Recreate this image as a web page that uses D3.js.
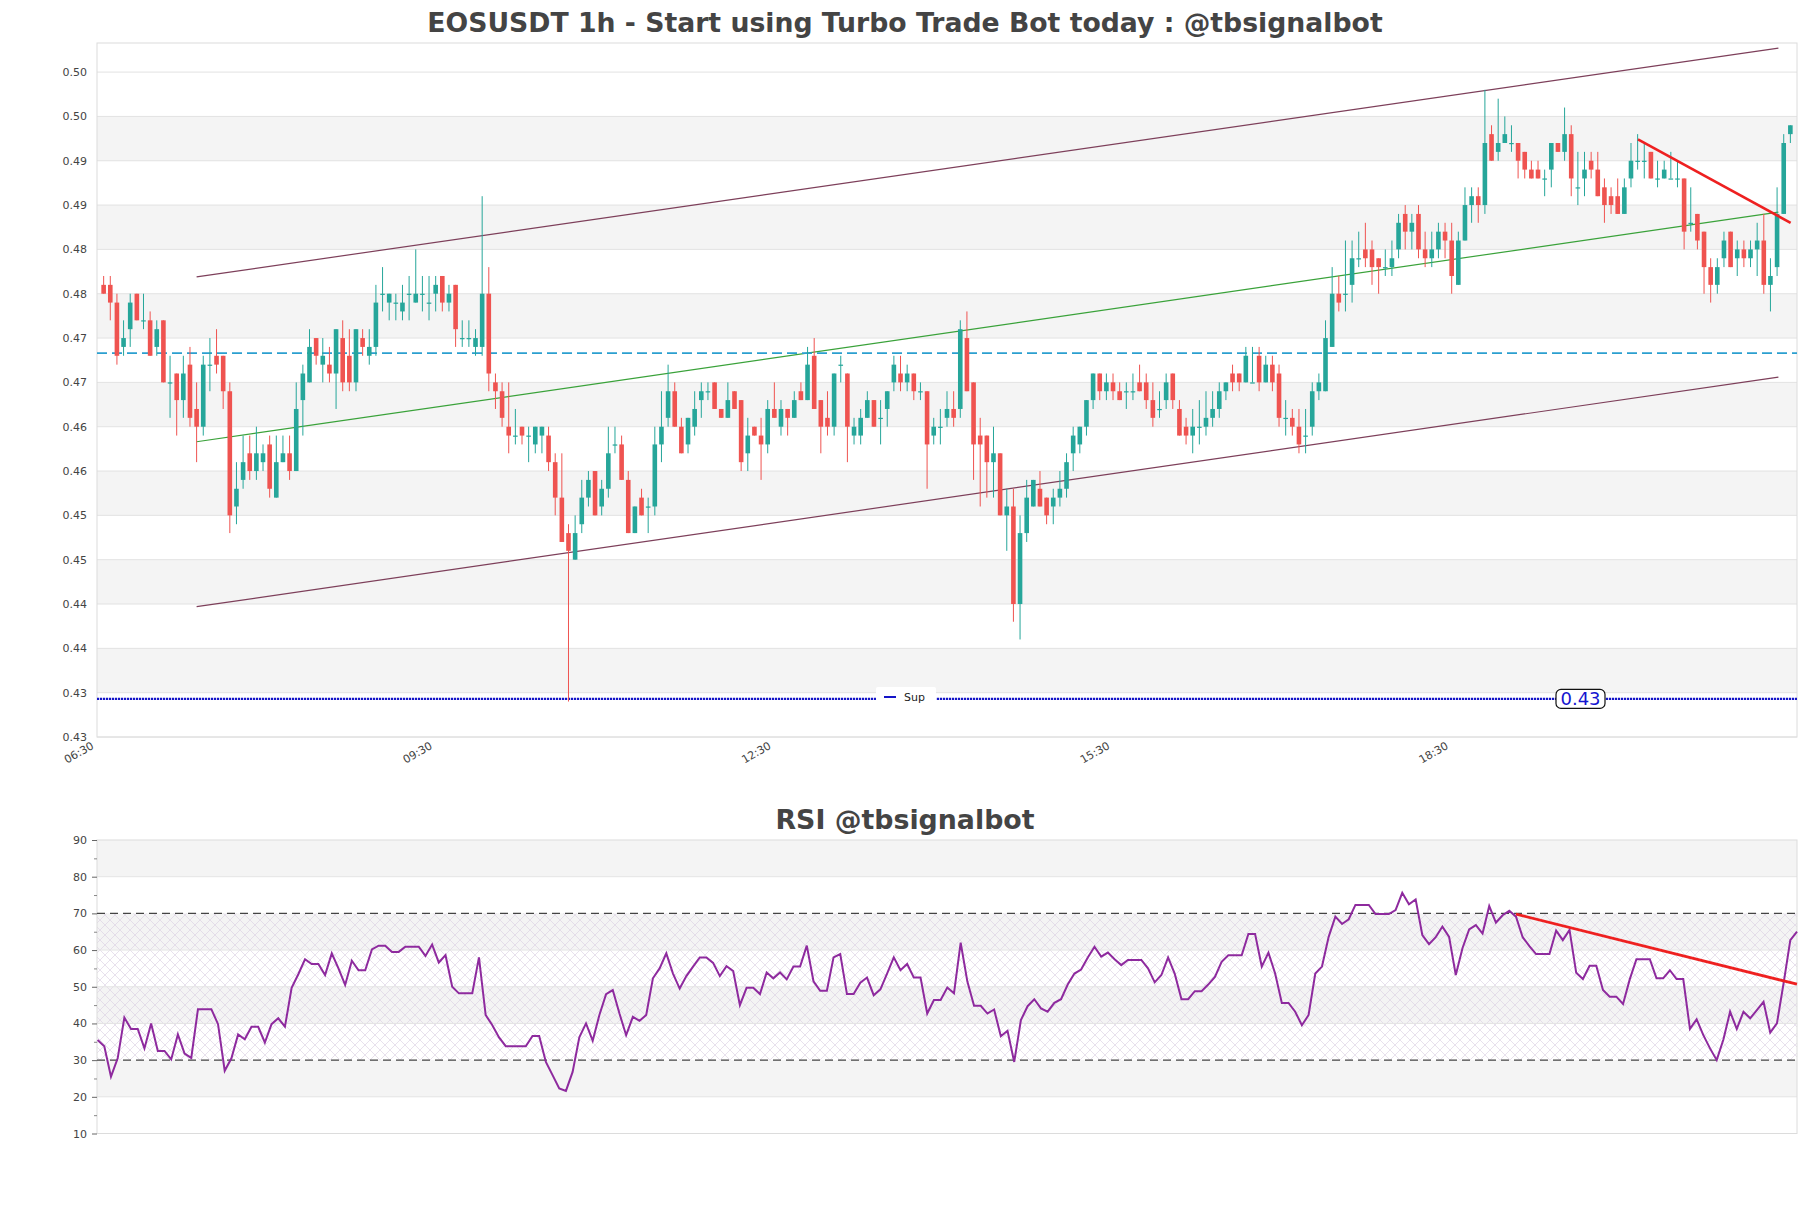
<!DOCTYPE html>
<html><head><meta charset="utf-8">
<script src="https://cdn.jsdelivr.net/npm/d3@7"></script>
<style>body{margin:0;background:#fff} text{font-family:"DejaVu Sans",sans-serif}</style>
</head><body><svg id="c" width="1811" height="1208"></svg>
<script>
// ---------- DATA ----------
const opens=[.476,.476,.474,.469,.471,.475,.472,.472,.469,.472,
.465,.466,.463,.467,.462,.460,.467,.468,.468,.464,
.451,.454,.457,.455,.456,.458,.452,.456,.457,.455,
.463,.465,.470,.467,.467,.466,.470,.468,.465,.470,
.468,.469,.475,.474,.474,.473,.475,.474,.475,.474,
.475,.477,.474,.476,.470,.470,.469,.469,.475,.465,
.464,.460,.459,.460,.459,.458,.459,.459,.456,.452,
.448,.445,.449,.452,.455,.451,.453,.458,.458,.454,
.448,.452,.451,.451,.458,.461,.464,.460,.458,.460,
.463,.464,.465,.462,.461,.464,.463,.457,.460,.459,
.458,.462,.460,.462,.461,.464,.463,.468,.463,.461,
.460,.467,.466,.459,.459,.461,.463,.461,.462,.465,
.466,.465,.466,.464,.464,.459,.460,.461,.462,.462,
.470,.465,.459,.459,.456,.457,.450,.451,.440,.448,
.451,.453,.452,.451,.452,.453,.457,.458,.460,.463,
.466,.464,.465,.464,.464,.464,.465,.465,.463,.462,
.463,.466,.462,.460,.459,.460,.460,.461,.462,.464,
.466,.466,.465,.465,.468,.465,.467,.466,.461,.461,
.460,.459,.460,.464,.464,.469,.475,.475,.476,.479,
.480,.480,.479,.478,.478,.480,.484,.482,.484,.480,
.479,.480,.482,.481,.476,.481,.485,.486,.485,.493,
.491,.492,.492,.492,.491,.489,.489,.488,.489,.492,
.491,.493,.487,.488,.490,.489,.487,.486,.486,.484,
.488,.490,.490,.491,.488,.488,.488,.488,.488,.483,
.484,.482,.478,.476,.479,.482,.479,.480,.479,.480,
.481,.476,.478,.484,.493];
const highs=[.477,.477,.475,.472,.475,.475,.475,.473,.472,.472,
.468,.466,.468,.469,.465,.468,.470,.471,.468,.465,
.456,.459,.459,.460,.458,.459,.459,.459,.459,.465,
.467,.471,.470,.470,.469,.471,.472,.471,.471,.471,
.471,.476,.478,.475,.475,.476,.477,.480,.477,.477,
.477,.477,.476,.476,.472,.472,.471,.486,.478,.466,
.465,.465,.462,.460,.460,.460,.460,.460,.457,.457,
.449,.450,.454,.455,.455,.454,.460,.460,.459,.455,
.451,.453,.452,.460,.464,.467,.465,.461,.461,.464,
.465,.465,.465,.462,.465,.464,.463,.461,.460,.461,
.463,.465,.463,.462,.464,.465,.469,.470,.463,.464,
.466,.468,.466,.461,.462,.464,.463,.463,.464,.468,
.468,.467,.466,.465,.464,.461,.462,.464,.464,.472,
.473,.465,.461,.459,.460,.457,.453,.453,.450,.454,
.454,.455,.452,.453,.455,.457,.460,.460,.463,.466,
.466,.466,.466,.465,.465,.466,.467,.466,.465,.464,
.466,.466,.463,.461,.462,.463,.464,.464,.465,.465,
.467,.466,.469,.469,.469,.468,.468,.467,.463,.462,
.462,.462,.465,.466,.472,.478,.477,.481,.481,.482,
.483,.481,.479,.480,.481,.484,.485,.484,.485,.482,
.482,.483,.483,.483,.482,.487,.487,.487,.498,.494,
.497,.495,.494,.492,.491,.490,.490,.489,.492,.492,
.496,.494,.491,.491,.491,.491,.488,.487,.488,.488,
.492,.493,.492,.491,.490,.490,.491,.490,.488,.487,
.484,.482,.479,.479,.482,.482,.481,.481,.481,.483,
.484,.479,.487,.493,.494];
const lows=[.475,.472,.467,.468,.469,.472,.471,.468,.468,.465,
.461,.459,.461,.460,.456,.459,.464,.466,.462,.448,
.449,.453,.454,.454,.455,.452,.452,.456,.454,.455,
.459,.465,.467,.465,.465,.462,.464,.464,.464,.468,
.467,.468,.473,.472,.472,.472,.472,.474,.473,.472,
.473,.473,.473,.469,.469,.469,.468,.468,.464,.462,
.460,.457,.458,.458,.456,.457,.457,.455,.450,.447,
.429,.445,.448,.451,.450,.450,.452,.457,.454,.448,
.448,.450,.448,.450,.456,.460,.460,.457,.457,.459,
.461,.463,.462,.461,.461,.462,.455,.455,.459,.454,
.457,.461,.459,.459,.461,.463,.463,.462,.457,.459,
.459,.465,.456,.458,.458,.461,.460,.458,.460,.464,
.464,.464,.463,.463,.453,.458,.458,.460,.460,.461,
.464,.454,.451,.452,.452,.450,.446,.438,.436,.447,
.451,.451,.449,.449,.451,.452,.455,.457,.459,.462,
.463,.463,.463,.463,.462,.463,.464,.462,.460,.461,
.462,.462,.459,.458,.457,.458,.459,.460,.461,.463,
.464,.464,.465,.465,.464,.465,.464,.460,.459,.459,
.457,.457,.459,.463,.464,.469,.473,.473,.474,.478,
.478,.476,.475,.477,.477,.479,.480,.480,.479,.478,
.478,.479,.479,.475,.476,.481,.483,.483,.484,.490,
.490,.492,.491,.488,.488,.488,.488,.486,.487,.491,
.490,.486,.485,.486,.488,.486,.483,.484,.484,.484,
.487,.489,.488,.488,.487,.488,.488,.487,.480,.482,
.480,.475,.474,.475,.478,.478,.477,.478,.478,.477,
.475,.473,.477,.484,.492];
const closes=[.475,.474,.468,.470,.474,.472,.472,.468,.471,.465,
.465,.463,.466,.461,.460,.467,.467,.467,.464,.450,
.453,.456,.455,.457,.457,.453,.456,.457,.455,.462,
.466,.469,.468,.468,.466,.471,.465,.465,.471,.469,
.469,.474,.475,.475,.474,.474,.475,.475,.475,.474,
.476,.474,.475,.471,.470,.470,.470,.475,.466,.464,
.461,.459,.459,.459,.459,.460,.460,.456,.452,.447,
.446,.448,.452,.454,.450,.453,.457,.458,.454,.448,
.451,.450,.451,.458,.460,.464,.460,.457,.461,.462,
.464,.464,.462,.461,.463,.462,.456,.459,.459,.458,
.462,.461,.462,.461,.463,.463,.467,.462,.460,.460,
.466,.467,.460,.460,.461,.463,.460,.461,.464,.467,
.465,.466,.464,.464,.458,.460,.460,.462,.461,.471,
.464,.458,.458,.456,.457,.450,.451,.440,.448,.452,
.454,.451,.450,.452,.453,.456,.459,.460,.463,.466,
.464,.465,.464,.463,.464,.464,.464,.463,.461,.462,
.465,.463,.459,.459,.460,.460,.461,.462,.464,.465,
.465,.465,.468,.465,.465,.467,.465,.461,.461,.460,
.458,.459,.464,.465,.470,.475,.474,.475,.479,.479,
.479,.478,.478,.478,.479,.483,.482,.483,.480,.479,
.480,.482,.481,.477,.481,.485,.486,.485,.492,.490,
.492,.493,.492,.490,.489,.488,.488,.488,.492,.491,
.493,.488,.487,.489,.489,.486,.485,.485,.484,.487,
.490,.490,.490,.488,.488,.489,.488,.488,.482,.483,
.481,.478,.476,.478,.481,.478,.480,.479,.480,.481,
.476,.477,.484,.492,.494];
const rsi=[35.5,33.8,25.5,30.5,41.6,38.5,38.5,33.2,40,32.5,
32.5,30.2,37,31.8,30.6,43.9,43.9,43.9,39.8,27.1,
30.5,37,35.7,39.1,39.1,34.8,39.8,41.4,39.1,49.7,
53.4,57.5,56.2,56.2,53.2,59.1,55,50.5,57.1,54.5,
54.5,60.2,61.2,61.2,59.5,59.5,60.9,60.9,60.9,58.4,
61.5,56.6,58.6,50,48.2,48.2,48.2,58,42.3,39.5,
36.2,33.8,33.8,33.8,33.8,36.6,36.6,29.5,25.9,22.3,
21.6,26.8,36.2,40,35.3,42.3,
48,49.1,42.7,36.8,41.8,40.7,42.3,52.3,55,59.1,
53.6,49.5,52.9,55.5,58,58,56.5,52.9,55.6,54.3,
45,49.7,49.7,48,53.9,52.3,53.9,52,55.5,55.5,
61.2,51.5,48.9,48.9,58,58.9,48,48,51.1,52.5,
47.7,49.3,53.6,58,54.5,56.2,52.5,52.5,42.7,46.4,
46.4,49.8,48.2,62,51.4,44.8,44.8,42.7,43.8,36.5,
38,29.5,40.9,44.7,46.6,44.1,43.2,45.6,46.6,50.6,
53.6,54.7,58,60.9,58.2,59.3,57.5,55.9,57.3,57.3,
57.3,55,51.2,53.2,58,53.5,46.6,46.6,48.8,48.8,
50.6,52.7,56.8,58.6,58.6,58.6,64.4,64.4,55.5,59.3,
53.6,45.6,45.6,43.2,
39.5,42.3,53.6,55.5,63.6,69.1,67.1,68.4,72.3,72.3,
72.3,69.8,69.8,69.8,70.9,75.6,72.5,73.8,64.1,61.6,
63.5,66.4,63.6,53.2,60.5,65.6,66.8,64.5,72,67.5,
69.5,70.7,69.1,63.5,61.1,58.9,58.9,58.9,65.3,62.7,
65.5,53.8,52.1,55.7,55.7,49.1,47.3,47.3,45.3,52,
57.5,57.5,57.5,52.3,52.3,54.5,52.1,52.1,38.5,41.1,
36.8,33.2,30,35.6,43.2,38.5,43.2,41.4,43.6,45.9,
37.5,40,51,62.7,65];
const yTicks=[0.425,0.430,0.435,0.440,0.445,0.450,0.455,0.460,0.465,0.470,0.475,0.480,0.485,0.490,0.495,0.500];
const yTickLabels=["0.43","0.43","0.44","0.44","0.45","0.45","0.46","0.46","0.47","0.47","0.48","0.48","0.49","0.49","0.50","0.50"];
const xTickIdx=[-1,50,101,152,203];
const xTickLabels=["06:30","09:30","12:30","15:30","18:30"];
const channelUpper=[[14,0.4769],[252.2,0.5027]];
const channelLower=[[14,0.4397],[252.2,0.4656]];
const channelMid=[[14,0.4583],[252.2,0.4842]];
const resistLine=[[231.05,0.4924],[254.04,0.4830]];
const cyanLevel=0.4683;
const supportLevel=0.4293;
const supportLabel="0.43";
const rsiTicks=[10,20,30,40,50,60,70,80,90];
const rsiMinorTicks=[15,25,35,45,55,65,75,85];
const rsiTrend=[[212,69.8],[254,50.7]];
const titleMain="EOSUSDT 1h - Start using Turbo Trade Bot today : @tbsignalbot";
const titleRsi="RSI @tbsignalbot";

// ---------- LAYOUT ----------
const svg=d3.select("#c");
const L=97,R=1797,T=43,B=737;
const RT=840,RB=1133.5;
const N=opens.length;
const x=d3.scaleLinear().domain([-1,N]).range([L,R]);
const y=d3.scaleLinear().domain([0.425,0.50328]).range([B,T]);
const xr=d3.scaleLinear().domain([0,rsi.length-1]).range([97.6,R]);
const yr=d3.scaleLinear().domain([10,90]).range([RB,RT]);

svg.append("rect").attr("width",1811).attr("height",1208).attr("fill","#fff");

// titles
svg.append("text").attr("x",905).attr("y",32).attr("text-anchor","middle")
 .attr("font-size",26.7).attr("font-weight","bold").attr("fill","#444").text(titleMain);
svg.append("text").attr("x",905).attr("y",829).attr("text-anchor","middle")
 .attr("font-size",26.8).attr("font-weight","bold").attr("fill","#444").text(titleRsi);

// main bands
const gm=svg.append("g");
for(let k=1;k<yTicks.length-1;k+=2){
  gm.append("rect").attr("x",L).attr("width",R-L)
   .attr("y",y(yTicks[k+1])).attr("height",y(yTicks[k])-y(yTicks[k+1])).attr("fill","#f4f4f4");
}
gm.selectAll("line.grid").data(yTicks).join("line").attr("class","grid")
 .attr("x1",L).attr("x2",R).attr("y1",d=>y(d)).attr("y2",d=>y(d)).attr("stroke","#e2e2e2").attr("stroke-width",1);
gm.append("rect").attr("x",L).attr("y",T).attr("width",R-L).attr("height",B-T)
 .attr("fill","none").attr("stroke","#dcdcdc");

// y axis
const ya=svg.append("g").attr("transform",`translate(${L},0)`)
 .call(d3.axisLeft(y).tickValues(yTicks).tickFormat((d,i)=>yTickLabels[i]).tickSize(0).tickPadding(10));
ya.select(".domain").remove();
ya.selectAll("text").attr("font-size",11).attr("fill","#444").style("font-family","DejaVu Sans");

// x axis
const xa=svg.append("g").attr("transform",`translate(0,${B})`)
 .call(d3.axisBottom(x).tickValues(xTickIdx).tickFormat((d,i)=>xTickLabels[i]).tickSize(0).tickPadding(0));
xa.select(".domain").remove();
xa.selectAll("text").attr("font-size",11).attr("fill","#444").style("font-family","DejaVu Sans")
 .attr("text-anchor","end").attr("dy",0).attr("y",0)
 .attr("transform","translate(-3,11) rotate(-30)");

// lines
const line=d3.line().x(d=>x(d[0])).y(d=>y(d[1]));
const gl=svg.append("g");
gl.append("path").attr("d",line(channelUpper)).attr("stroke","#7d3f5a").attr("fill","none").attr("stroke-width",1.2);
gl.append("path").attr("d",line(channelLower)).attr("stroke","#7d3f5a").attr("fill","none").attr("stroke-width",1.2);
gl.append("path").attr("d",line(channelMid)).attr("stroke","#3aa23a").attr("fill","none").attr("stroke-width",1.2);
gl.append("line").attr("x1",L).attr("x2",R).attr("y1",y(cyanLevel)).attr("y2",y(cyanLevel))
 .attr("stroke","#2b9fcf").attr("stroke-width",1.6).attr("stroke-dasharray","10,5");

// candles
const idx=d3.range(N);
const gc=svg.append("g");
const col=i=>closes[i]>=opens[i]?"#26a69a":"#ef5350";
gc.selectAll("line.w").data(idx).join("line").attr("class","w")
 .attr("x1",i=>x(i)).attr("x2",i=>x(i)).attr("y1",i=>y(highs[i])).attr("y2",i=>y(lows[i]))
 .attr("stroke",col).attr("stroke-width",1);
const bw=4.6;
gc.selectAll("rect.b").data(idx).join("rect").attr("class","b")
 .attr("x",i=>x(i)-bw/2).attr("width",bw)
 .attr("y",i=>y(Math.max(opens[i],closes[i])))
 .attr("height",i=>Math.max(1.2,Math.abs(y(opens[i])-y(closes[i]))))
 .attr("fill",col);

// support line
gl.append("line").attr("x1",L).attr("x2",R).attr("y1",y(supportLevel)).attr("y2",y(supportLevel))
 .attr("stroke","#1515c8").attr("stroke-width",2.4).attr("stroke-dasharray","2.2,0.8");
// resistance
svg.append("path").attr("d",line(resistLine)).attr("stroke","#ee2020").attr("stroke-width",2.6).attr("fill","none");

// legend Sup
const lg=svg.append("g");
lg.append("rect").attr("x",876).attr("y",687).attr("width",60).attr("height",20).attr("fill","#fff").attr("rx",2);
lg.append("line").attr("x1",884).attr("x2",896).attr("y1",697).attr("y2",697).attr("stroke","#1515c8").attr("stroke-width",2);
lg.append("text").attr("x",904).attr("y",701).attr("font-size",11).attr("fill","#222").text("Sup");
// support value label
const sl=svg.append("g");
sl.append("rect").attr("x",1556).attr("y",y(supportLevel)-9.5).attr("width",49).attr("height",19).attr("rx",5)
 .attr("fill","#fff").attr("stroke","#111").attr("stroke-width",1.2);
sl.append("text").attr("x",1580.5).attr("y",y(supportLevel)+6.5).attr("text-anchor","middle")
 .attr("font-size",18).attr("fill","#1515d0").text(supportLabel);

// ---------- RSI ----------
const defs=svg.append("defs");
const pat=defs.append("pattern").attr("id","hatch").attr("patternUnits","userSpaceOnUse").attr("width",10).attr("height",10);
pat.append("path").attr("d","M0,0L10,10M10,0L0,10").attr("stroke","#d8cde0").attr("stroke-width",0.6);
const gr=svg.append("g");
[[80,90],[60,70],[40,50],[20,30]].forEach(b=>{
  gr.append("rect").attr("x",L).attr("width",R-L).attr("y",yr(b[1])).attr("height",yr(b[0])-yr(b[1])).attr("fill","#f4f4f4");
});
gr.append("rect").attr("x",L).attr("width",R-L).attr("y",yr(70)).attr("height",yr(30)-yr(70)).attr("fill","url(#hatch)");
gr.selectAll("line.g").data([20,40,50,60,80]).join("line")
 .attr("x1",L).attr("x2",R).attr("y1",d=>yr(d)).attr("y2",d=>yr(d)).attr("stroke","#e4e4e4");
gr.append("rect").attr("x",L).attr("y",RT).attr("width",R-L).attr("height",RB-RT).attr("fill","none").attr("stroke","#dcdcdc");
[30,70].forEach(v=>gr.append("line").attr("x1",L).attr("x2",R).attr("y1",yr(v)).attr("y2",yr(v))
 .attr("stroke","#444").attr("stroke-width",1.2).attr("stroke-dasharray","8,5"));
const ra=svg.append("g").attr("transform",`translate(${L},0)`)
 .call(d3.axisLeft(yr).tickValues(rsiTicks).tickFormat(d3.format("d")).tickSize(5).tickPadding(5));
ra.select(".domain").remove();
ra.selectAll("line").attr("stroke","#666");
ra.selectAll("text").attr("font-size",11).attr("fill","#444").style("font-family","DejaVu Sans");
const ram=svg.append("g").attr("transform",`translate(${L},0)`)
 .call(d3.axisLeft(yr).tickValues(rsiMinorTicks).tickFormat("").tickSize(3));
ram.select(".domain").remove(); ram.selectAll("line").attr("stroke","#888");

const rl=d3.line().x((d,i)=>xr(i)).y(d=>yr(d));
svg.append("path").attr("d",rl(rsi)).attr("fill","none").attr("stroke","#8e2a9e").attr("stroke-width",2);
const rtl=d3.line().x(d=>xr(d[0])).y(d=>yr(d[1]));
svg.append("path").attr("d",rtl(rsiTrend)).attr("fill","none").attr("stroke","#ee2020").attr("stroke-width",2.8);
</script></body></html>
